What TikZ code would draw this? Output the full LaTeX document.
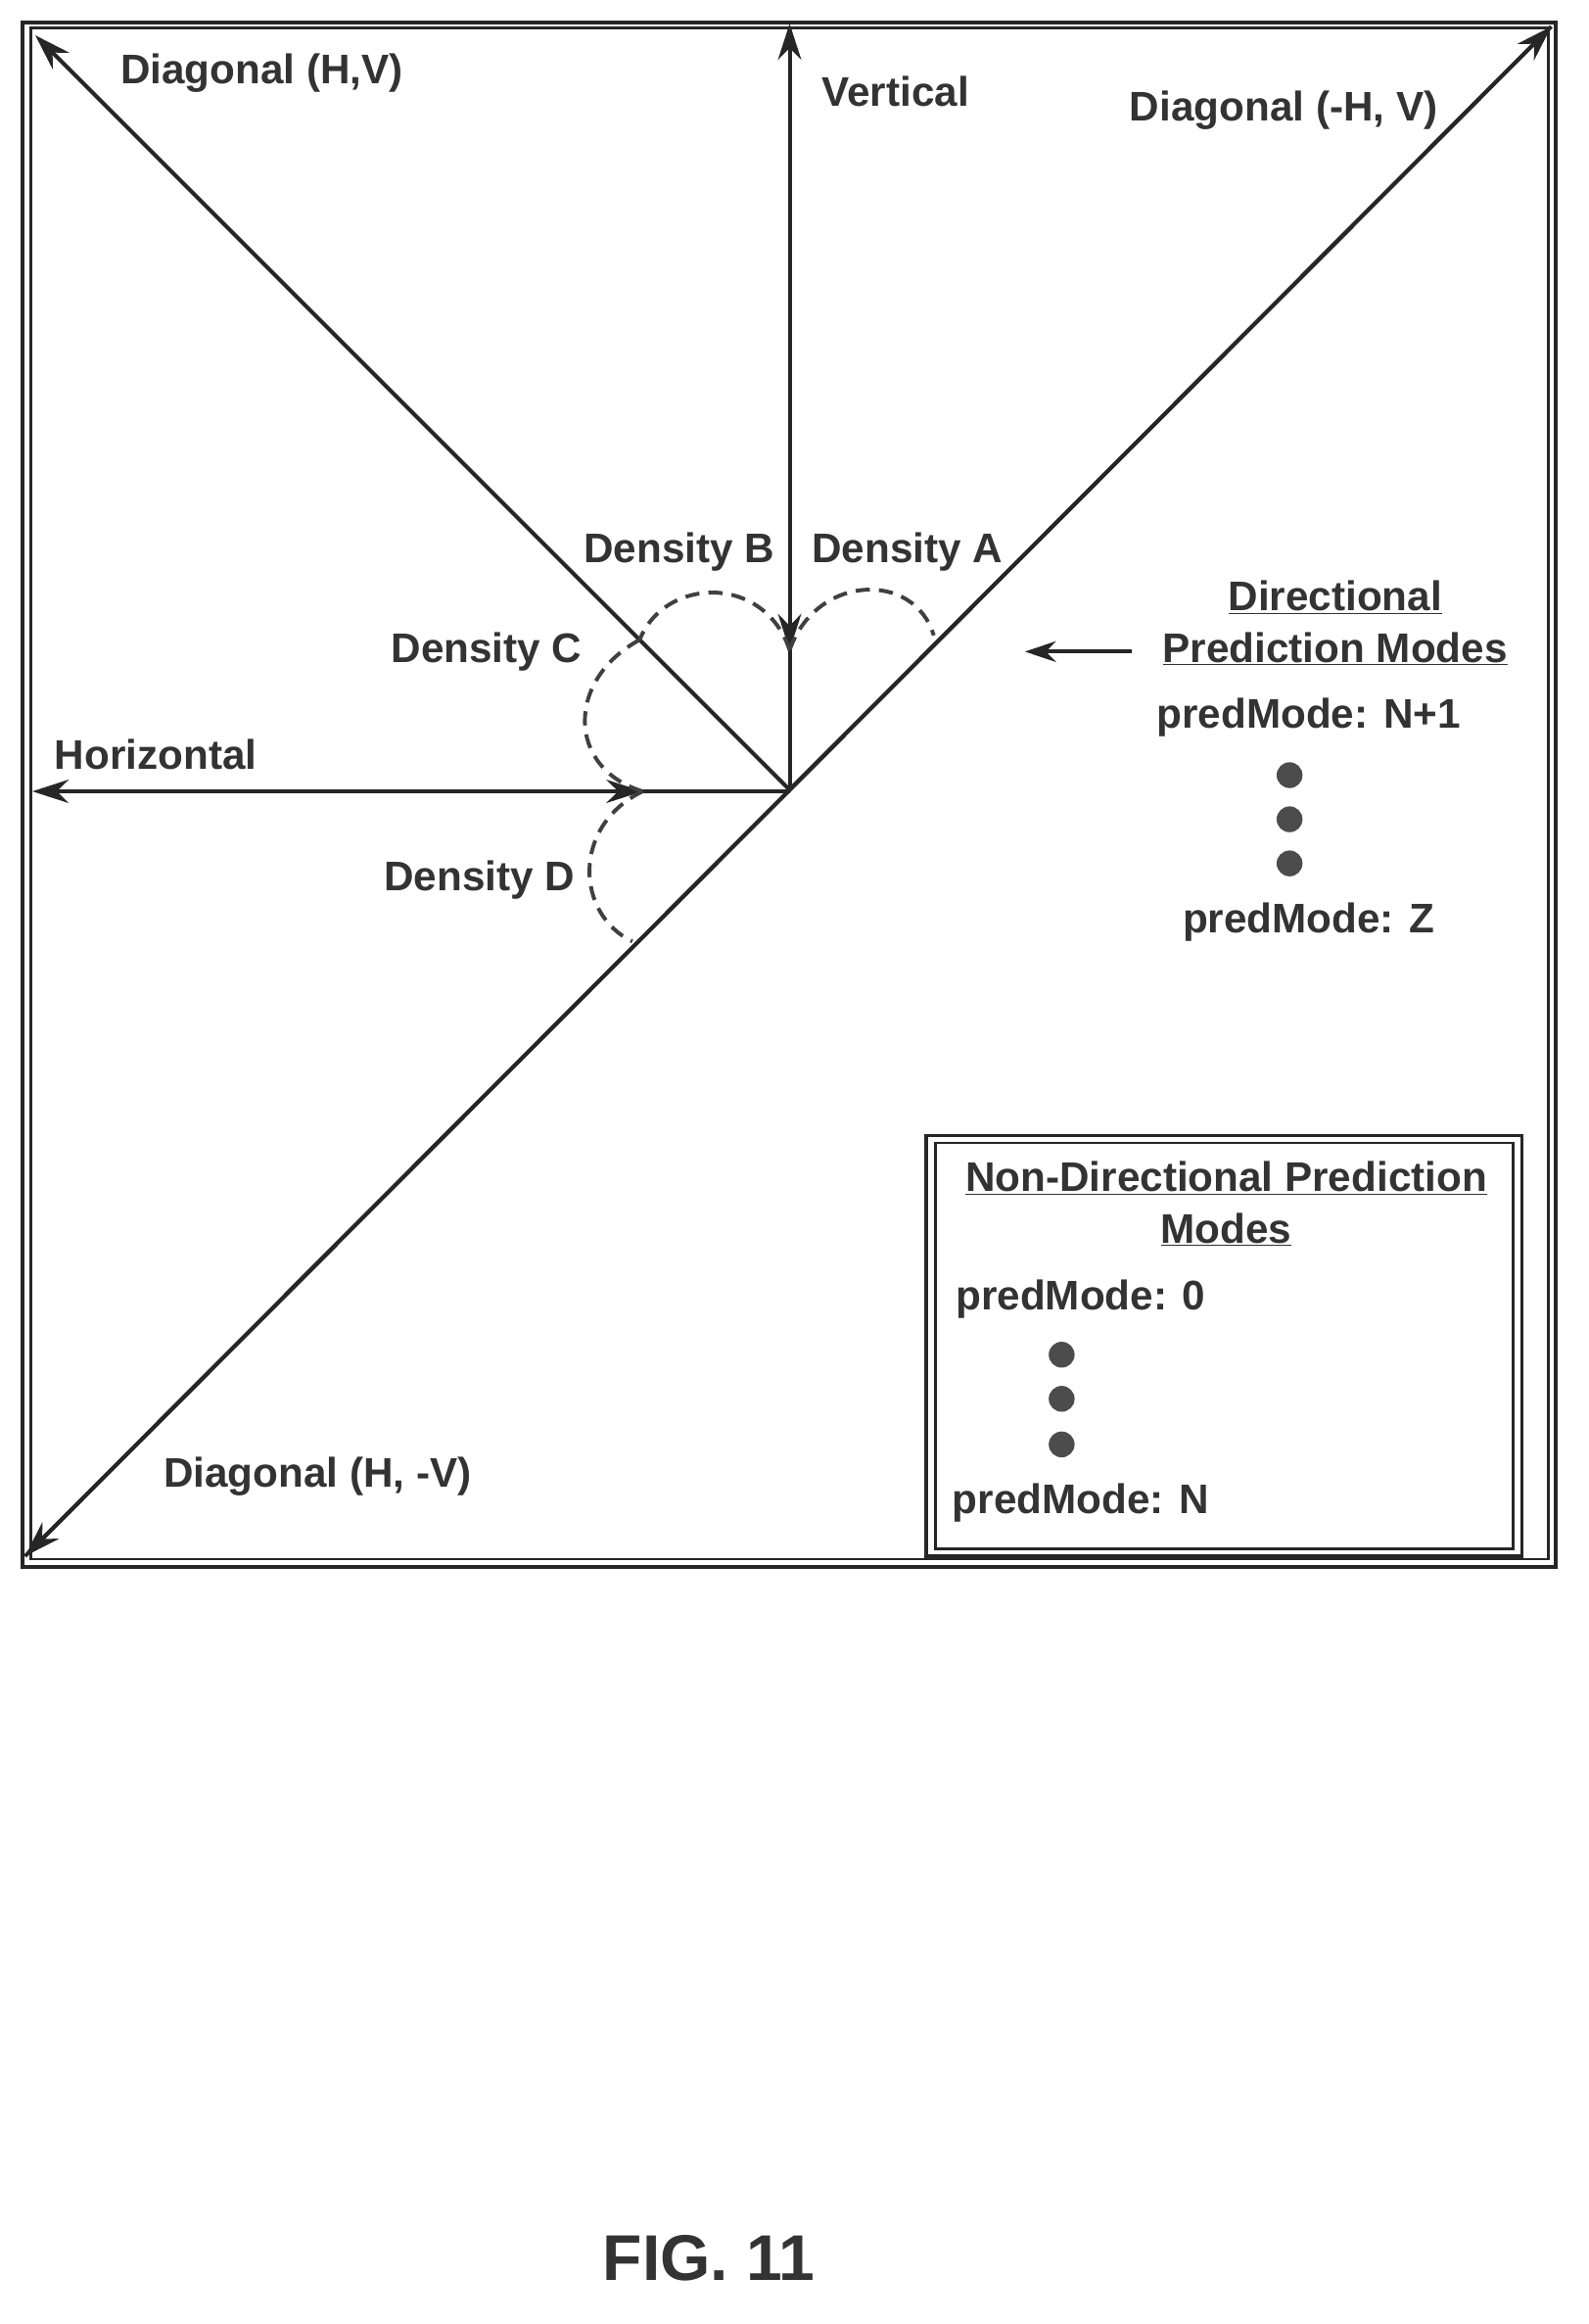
\documentclass[tikz,border=0pt]{standalone}
\usepackage{fontspec}
\setmainfont{Liberation Sans}
\usetikzlibrary{arrows.meta}
\begin{document}
\begin{tikzpicture}[x=0.04cm,y=-0.04cm,
  lbl/.style={font=\fontsize{32}{36}\selectfont\bfseries, text=black!80},
  ln/.style={line width=3pt, black!85},
  arr/.style={ln,-{Stealth[length=28pt,width=18pt]}},
  dsh/.style={line width=3pt, black!75, dash pattern=on 11pt off 7pt},
  dot/.style={circle, fill=black!70, inner sep=0pt, minimum size=20pt}]
\useasboundingbox (0,0) rectangle (1080,1580);
% frame
\draw[line width=3pt, black!85] (15,15) rectangle (1058,1065);
\draw[line width=2pt, black!85] (21,19) rectangle (1053,1060);
% centre and ends
\coordinate (O) at (537,537);
\coordinate (TL) at (24,24);
\coordinate (TR) at (1055,18);
\coordinate (BL) at (17,1058);
\coordinate (T) at (537,16);
\coordinate (L) at (22,538);
\coordinate (v) at (537,442);
\coordinate (h) at (437,538);
\coordinate (a) at (635,432);
\coordinate (b) at (435,435);
\coordinate (d) at (430,640);
\draw[arr] (O) -- (TL);
\draw[arr] (BL) -- (TR);
\draw[arr] (TR) -- (BL);
\draw[arr] (O) -- (T);
\draw[arr] (O |- 0,538) -- (L);
\draw[arr] (537,410) -- (v);
\draw[arr] (405,538) -- (h);
% dashed arcs
\draw[dsh] (v) .. controls (555,390) and (622,388) .. (a);
\draw[dsh] (v) .. controls (520,390) and (452,392) .. (b);
\draw[dsh] (b) .. controls (385,462) and (385,522) .. (h);
\draw[dsh] (h) .. controls (388,562) and (392,622) .. (d);
% labels
\node[lbl] (l1) at (178,50) {Diagonal (H,V)};
\node[lbl] (l2) at (609,62) {Vertical};
\node[lbl] (l3) at (873,75) {Diagonal (-H, V)};
\node[lbl] (l4) at (462,375) {Density B};
\node[lbl] (l5) at (617,375) {Density A};
\node[lbl] (l6) at (331,443) {Density C};
\node[lbl] (l7) at (106,513) {Horizontal};
\node[lbl] (l8) at (326,598) {Density D};
\node[lbl] (l9) at (216,1004) {Diagonal (H, -V)};
% directional
\node[lbl] (dir1) at (908,406) {\underline{Directional}};
\node[lbl] (dir2) at (908,441) {\underline{Prediction Modes}};
\coordinate (as) at (770,443);
\draw[ln,-{Stealth[length=24pt,width=16pt]}] (as) -- (697,443);
\node[lbl] (p1) at (890,488) {predMode: N+1};
\node[dot] (d1) at (877,527) {};
\node[dot] (d2) at (877,557) {};
\node[dot] (d3) at (877,587) {};
\node[lbl] (p2) at (890,627) {predMode: Z};
% non-directional
\node[draw, line width=3pt, black!85, minimum width=405*0.04cm, minimum height=286*0.04cm] (nd) at (832.5,915) {};
\draw[line width=2pt, black!85] (636,777) rectangle (1029,1053);
\node[lbl] (n1) at (834,801) {\underline{Non-Directional Prediction}};
\node[lbl] (n2) at (834,836) {\underline{Modes}};
\node[lbl] (p3) at (735,883) {predMode: 0};
\node[dot] (e1) at (722,921) {};
\node[dot] (e2) at (722,951) {};
\node[dot] (e3) at (722,982) {};
\node[lbl] (p4) at (735,1022) {predMode: N};
\node[font=\fontsize{50}{56}\selectfont\bfseries, text=black!80] (fig) at (482,1535) {FIG. 11};
\end{tikzpicture}
\end{document}
